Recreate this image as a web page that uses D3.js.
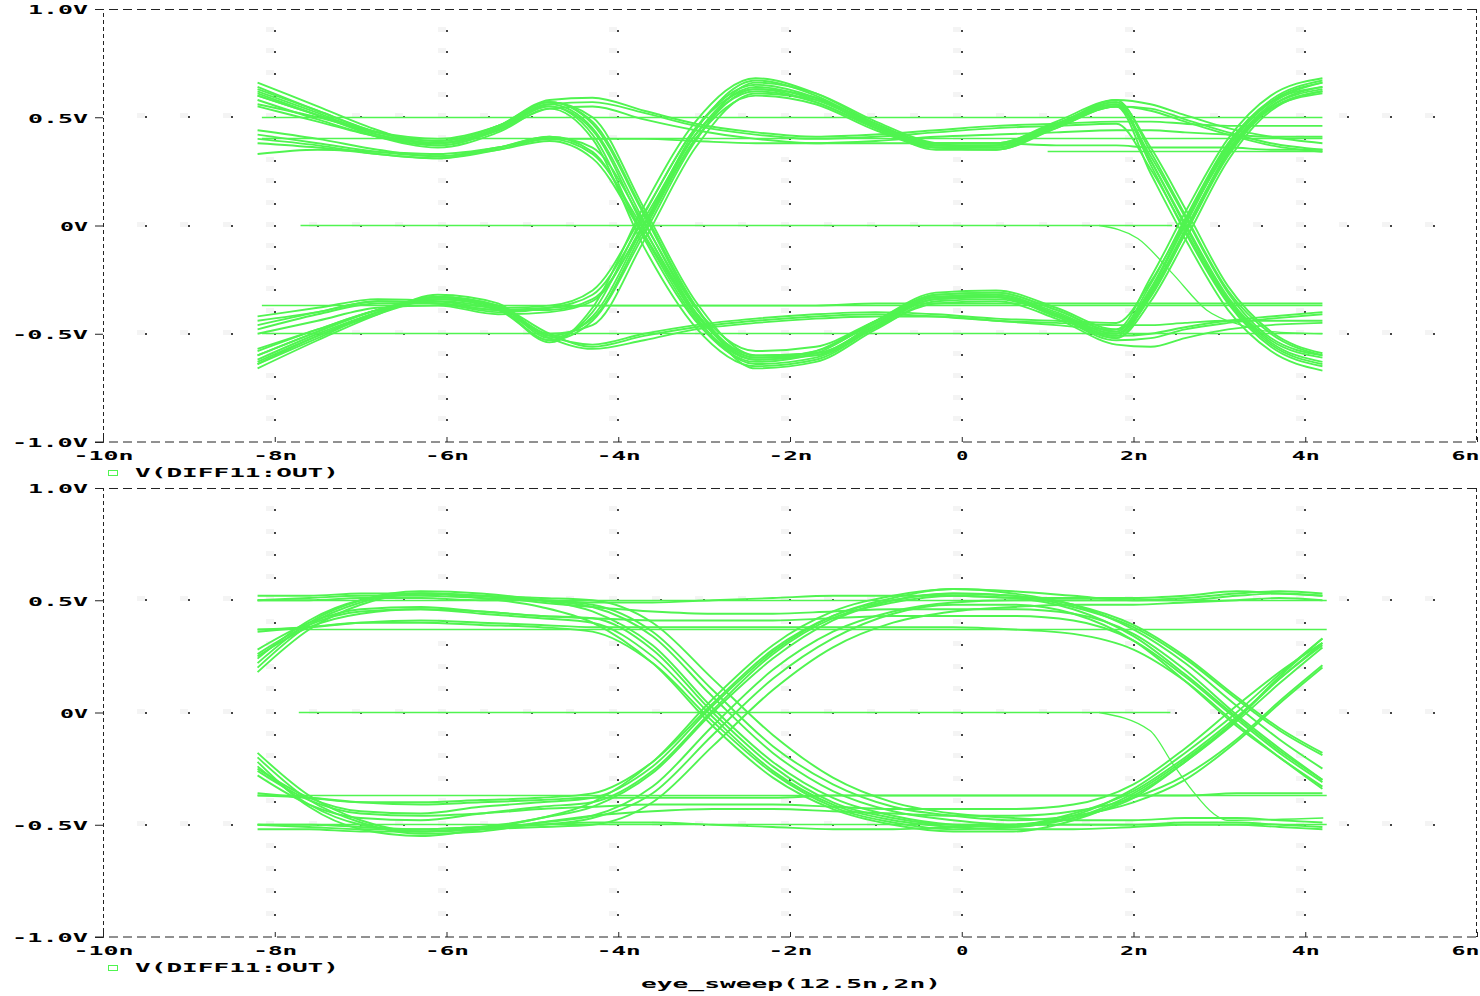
<!DOCTYPE html>
<html>
<head>
<meta charset="utf-8">
<script src="https://cdn.jsdelivr.net/npm/d3@7"></script>
<style>
  html, body { margin: 0; padding: 0; background: #fff; }
  svg { display: block; }
  .lbl { font-family: "DejaVu Sans Mono", monospace; font-weight: bold; font-size: 13px; fill: #000; }
</style>
</head>
<body>
<svg id="chart" width="1480" height="996"></svg>
<script>
// Axis data
const xTicks = [-10, -8, -6, -4, -2, 0, 2, 4, 6];
const xTickLabels = ["-10n", "-8n", "-6n", "-4n", "-2n", "0", "2n", "4n", "6n"];
const yTicks = [1, 0.5, 0, -0.5, -1];
const yTickLabels = ["1.0V", "0.5V", "0V", "-0.5V", "-1.0V"];
const legendText = "V(DIFF11:OUT)";
const xTitle = "eye_sweep(12.5n,2n)";

// Top plot: sample times (ns) shared by every trace, then voltages per trace
const topKnots = [-8.2, -7.5, -6.8, -6.1, -5.4, -4.8, -4.3, -3.7, -3.1, -2.4, -1.7, -1.0, -0.3, 0.4, 1.1, 1.8, 2.2, 2.6, 3.1, 3.6, 4.2];
const topTraces = [
  [0.62, 0.52, 0.42, 0.38, 0.45, 0.56, 0.45, 0.02, -0.40, -0.62, -0.60, -0.46, -0.33, -0.32, -0.40, -0.50, -0.30, 0.00, 0.36, 0.57, 0.66],
  [0.56, 0.50, 0.43, 0.40, 0.46, 0.57, 0.47, 0.05, -0.38, -0.61, -0.58, -0.45, -0.34, -0.33, -0.42, -0.53, -0.52, -0.48, -0.45, -0.43, -0.41],
  [0.66, 0.55, 0.44, 0.37, 0.44, 0.55, 0.44, -0.01, -0.42, -0.64, -0.61, -0.47, -0.32, -0.31, -0.39, -0.49, -0.27, 0.03, 0.38, 0.58, 0.67],
  [0.40, 0.37, 0.33, 0.31, 0.35, 0.40, 0.33, -0.02, -0.40, -0.60, -0.59, -0.46, -0.34, -0.33, -0.41, -0.51, -0.50, -0.47, -0.44, -0.42, -0.40],
  [0.33, 0.35, 0.34, 0.33, 0.36, 0.41, 0.34, -0.04, -0.41, -0.61, -0.60, -0.45, -0.33, -0.32, -0.41, -0.51, -0.31, -0.03, 0.34, 0.55, 0.64],
  [-0.62, -0.50, -0.40, -0.33, -0.37, -0.52, -0.42, 0.00, 0.42, 0.64, 0.58, 0.46, 0.37, 0.37, 0.47, 0.57, 0.30, 0.00, -0.34, -0.54, -0.63],
  [-0.66, -0.53, -0.41, -0.32, -0.36, -0.51, -0.43, -0.02, 0.40, 0.63, 0.59, 0.47, 0.38, 0.38, 0.48, 0.58, 0.56, 0.51, 0.45, 0.41, 0.38],
  [-0.46, -0.40, -0.35, -0.36, -0.40, -0.38, -0.32, 0.03, 0.42, 0.62, 0.57, 0.45, 0.36, 0.36, 0.46, 0.56, 0.28, -0.03, -0.36, -0.56, -0.65],
  [-0.50, -0.44, -0.38, -0.37, -0.41, -0.40, -0.35, 0.01, 0.44, 0.67, 0.60, 0.46, 0.35, 0.35, 0.45, 0.55, 0.54, 0.49, 0.43, 0.38, 0.35],
  [0.60, 0.51, 0.42, 0.38, 0.45, 0.56, 0.57, 0.52, 0.46, 0.42, 0.40, 0.41, 0.43, 0.45, 0.46, 0.47, 0.26, -0.02, -0.35, -0.55, -0.64],
  [0.64, 0.53, 0.43, 0.39, 0.46, 0.58, 0.59, 0.53, 0.47, 0.43, 0.41, 0.42, 0.44, 0.46, 0.47, 0.48, 0.48, 0.47, 0.46, 0.46, 0.46],
  [-0.60, -0.49, -0.39, -0.34, -0.38, -0.51, -0.55, -0.50, -0.46, -0.43, -0.41, -0.40, -0.41, -0.43, -0.44, -0.45, -0.26, 0.02, 0.37, 0.57, 0.64],
  [-0.64, -0.52, -0.40, -0.33, -0.37, -0.50, -0.56, -0.51, -0.47, -0.44, -0.42, -0.41, -0.42, -0.44, -0.45, -0.46, -0.46, -0.45, -0.44, -0.44, -0.44],
  [-0.58, -0.48, -0.39, -0.34, -0.39, -0.53, -0.44, -0.04, 0.39, 0.66, 0.61, 0.48, 0.38, 0.36, 0.45, 0.55, 0.32, 0.04, -0.31, -0.52, -0.60],
  [0.60, 0.51, 0.43, 0.39, 0.46, 0.57, 0.48, 0.06, -0.37, -0.66, -0.63, -0.48, -0.35, -0.34, -0.41, -0.50, -0.33, -0.04, 0.33, 0.55, 0.63],
  [0.42, 0.38, 0.34, 0.32, 0.36, 0.40, 0.40, 0.40, 0.39, 0.38, 0.38, 0.38, 0.38, 0.38, 0.37, 0.37, 0.36, 0.36, 0.36, 0.35, 0.35],
  [-0.44, -0.40, -0.35, -0.36, -0.39, -0.38, -0.37, -0.37, -0.37, -0.37, -0.37, -0.36, -0.36, -0.36, -0.36, -0.36, -0.36, -0.36, -0.36, -0.36, -0.36],
  [0.58, 0.49, 0.41, 0.37, 0.44, 0.55, 0.42, -0.06, -0.44, -0.63, -0.59, -0.44, -0.31, -0.30, -0.38, -0.48, -0.24, 0.06, 0.40, 0.60, 0.68],
  [-0.64, -0.51, -0.40, -0.33, -0.38, -0.53, -0.40, 0.05, 0.45, 0.65, 0.59, 0.45, 0.36, 0.35, 0.46, 0.58, 0.34, 0.05, -0.30, -0.50, -0.60],
  [-0.42, -0.38, -0.34, -0.35, -0.38, -0.37, -0.30, 0.06, 0.45, 0.63, 0.57, 0.45, 0.37, 0.37, 0.46, 0.55, 0.53, 0.48, 0.42, 0.37, 0.34],
  [0.44, 0.40, 0.35, 0.32, 0.35, 0.39, 0.31, -0.05, -0.43, -0.62, -0.58, -0.44, -0.32, -0.31, -0.39, -0.49, -0.29, 0.01, 0.35, 0.56, 0.66],
  [0.61, 0.51, 0.41, 0.36, 0.43, 0.54, 0.40, -0.10, -0.47, -0.65, -0.62, -0.47, -0.34, -0.33, -0.41, -0.52, -0.35, -0.07, 0.30, 0.53, 0.62],
  [-0.60, -0.49, -0.39, -0.33, -0.38, -0.54, -0.38, 0.09, 0.48, 0.68, 0.61, 0.47, 0.37, 0.36, 0.46, 0.57, 0.36, 0.08, -0.28, -0.49, -0.59],
  [-0.63, -0.51, -0.41, -0.34, -0.37, -0.50, -0.46, -0.07, 0.36, 0.61, 0.58, 0.46, 0.38, 0.38, 0.47, 0.55, 0.24, -0.06, -0.39, -0.58, -0.67],
  [0.63, 0.53, 0.43, 0.38, 0.45, 0.57, 0.50, 0.08, -0.35, -0.60, -0.59, -0.47, -0.36, -0.35, -0.43, -0.55, -0.56, -0.52, -0.48, -0.46, -0.45],
  [-0.48, -0.41, -0.36, -0.36, -0.39, -0.39, -0.34, 0.00, 0.40, 0.60, 0.56, 0.44, 0.36, 0.37, 0.47, 0.56, 0.30, 0.01, -0.33, -0.53, -0.61],
  [0.38, 0.36, 0.33, 0.31, 0.36, 0.41, 0.36, 0.01, -0.38, -0.58, -0.56, -0.44, -0.33, -0.33, -0.42, -0.52, -0.32, -0.02, 0.33, 0.54, 0.61],
  [0.55, 0.48, 0.41, 0.38, 0.44, 0.54, 0.55, 0.49, 0.44, 0.40, 0.38, 0.39, 0.41, 0.42, 0.43, 0.44, 0.44, 0.43, 0.42, 0.41, 0.41],
  [-0.57, -0.48, -0.39, -0.35, -0.39, -0.52, -0.57, -0.53, -0.48, -0.45, -0.43, -0.42, -0.42, -0.44, -0.46, -0.48, -0.32, -0.04, 0.32, 0.54, 0.62]
];
// flat segments: [level V, start ns, end ns]
const topFlats = [[0.5, -8.15, 4.2], [0.4, -8.15, 4.2], [0.34, 1.0, 4.2], [-0.5, -8.15, 4.2], [-0.37, -8.15, 4.2]];
const topZeroLine = [[-7.7, 0], [2.45, 0]];
const topStartup = [[1.6, 0], [2.05, -0.06], [2.45, -0.22], [2.85, -0.39], [3.25, -0.46], [3.6, -0.49], [4.2, -0.5]];

// Bottom plot
const botKnots = [-8.2, -7.6, -7.0, -6.3, -5.6, -4.9, -4.3, -3.6, -2.9, -2.2, -1.5, -0.8, -0.1, 0.6, 1.3, 2.0, 2.6, 3.2, 3.7, 4.2];
const botTraces = [
  [0.22, 0.40, 0.50, 0.54, 0.53, 0.50, 0.45, 0.30, 0.02, -0.22, -0.38, -0.46, -0.50, -0.51, -0.46, -0.34, -0.18, 0.00, 0.17, 0.33],
  [0.25, 0.38, 0.44, 0.46, 0.44, 0.42, 0.40, 0.25, -0.02, -0.26, -0.41, -0.48, -0.51, -0.52, -0.52, -0.51, -0.50, -0.50, -0.51, -0.52],
  [0.50, 0.51, 0.52, 0.52, 0.51, 0.50, 0.48, 0.36, 0.10, -0.15, -0.32, -0.42, -0.46, -0.48, -0.46, -0.40, -0.30, -0.13, 0.04, 0.20],
  [-0.22, -0.42, -0.52, -0.55, -0.52, -0.47, -0.42, -0.27, 0.00, 0.24, 0.41, 0.50, 0.53, 0.52, 0.47, 0.38, 0.24, 0.06, -0.08, -0.19],
  [-0.25, -0.38, -0.44, -0.45, -0.42, -0.40, -0.38, -0.24, 0.03, 0.27, 0.43, 0.51, 0.55, 0.54, 0.52, 0.50, 0.50, 0.52, 0.53, 0.52],
  [-0.50, -0.50, -0.51, -0.52, -0.51, -0.50, -0.47, -0.36, -0.10, 0.15, 0.33, 0.44, 0.48, 0.48, 0.44, 0.32, 0.14, -0.06, -0.20, -0.33],
  [0.50, 0.50, 0.51, 0.51, 0.50, 0.50, 0.49, 0.49, 0.50, 0.51, 0.52, 0.52, 0.52, 0.51, 0.51, 0.51, 0.52, 0.54, 0.53, 0.52],
  [0.37, 0.38, 0.40, 0.41, 0.40, 0.39, 0.38, 0.38, 0.38, 0.38, 0.38, 0.38, 0.38, 0.37, 0.35, 0.28, 0.14, -0.05, -0.20, -0.34],
  [-0.50, -0.51, -0.52, -0.52, -0.51, -0.50, -0.49, -0.49, -0.50, -0.51, -0.52, -0.52, -0.51, -0.50, -0.47, -0.38, -0.22, -0.03, 0.16, 0.33],
  [-0.37, -0.38, -0.40, -0.41, -0.40, -0.39, -0.38, -0.38, -0.38, -0.38, -0.37, -0.37, -0.37, -0.37, -0.37, -0.37, -0.37, -0.36, -0.36, -0.36],
  [0.20, 0.39, 0.49, 0.53, 0.52, 0.49, 0.47, 0.45, 0.44, 0.44, 0.45, 0.46, 0.46, 0.46, 0.44, 0.35, 0.19, -0.01, -0.16, -0.30],
  [-0.20, -0.39, -0.49, -0.54, -0.53, -0.49, -0.46, -0.44, -0.43, -0.43, -0.44, -0.45, -0.46, -0.46, -0.44, -0.38, -0.28, -0.12, 0.05, 0.21],
  [0.28, 0.40, 0.46, 0.47, 0.45, 0.43, 0.42, 0.28, 0.00, -0.24, -0.40, -0.47, -0.50, -0.50, -0.45, -0.35, -0.20, -0.02, 0.15, 0.31],
  [-0.28, -0.41, -0.47, -0.48, -0.45, -0.42, -0.40, -0.26, 0.01, 0.26, 0.42, 0.49, 0.52, 0.51, 0.46, 0.34, 0.17, -0.02, -0.17, -0.30],
  [0.18, 0.37, 0.48, 0.53, 0.52, 0.50, 0.47, 0.34, 0.07, -0.18, -0.35, -0.44, -0.48, -0.50, -0.50, -0.50, -0.49, -0.49, -0.50, -0.51],
  [-0.18, -0.37, -0.48, -0.53, -0.52, -0.49, -0.46, -0.33, -0.06, 0.19, 0.36, 0.45, 0.49, 0.50, 0.50, 0.50, 0.51, 0.53, 0.54, 0.53],
  [0.36, 0.38, 0.40, 0.40, 0.39, 0.38, 0.36, 0.22, -0.04, -0.27, -0.42, -0.49, -0.52, -0.51, -0.47, -0.36, -0.21, -0.03, 0.15, 0.30],
  [-0.36, -0.38, -0.40, -0.40, -0.39, -0.38, -0.36, -0.22, 0.04, 0.28, 0.43, 0.50, 0.53, 0.52, 0.48, 0.39, 0.25, 0.07, -0.07, -0.18],
  [0.24, 0.41, 0.50, 0.53, 0.51, 0.47, 0.40, 0.22, -0.06, -0.29, -0.43, -0.50, -0.53, -0.53, -0.48, -0.37, -0.22, -0.04, 0.13, 0.29],
  [-0.24, -0.41, -0.50, -0.53, -0.51, -0.47, -0.40, -0.22, 0.06, 0.30, 0.45, 0.52, 0.55, 0.53, 0.48, 0.37, 0.22, 0.03, -0.12, -0.25],
  [0.52, 0.52, 0.53, 0.53, 0.52, 0.51, 0.50, 0.40, 0.15, -0.10, -0.29, -0.40, -0.45, -0.47, -0.48, -0.48, -0.47, -0.47, -0.48, -0.49],
  [-0.52, -0.52, -0.53, -0.53, -0.52, -0.51, -0.50, -0.40, -0.15, 0.10, 0.29, 0.40, 0.45, 0.47, 0.48, 0.48, 0.49, 0.50, 0.51, 0.50],
  [0.26, 0.39, 0.45, 0.46, 0.45, 0.43, 0.42, 0.41, 0.41, 0.41, 0.42, 0.43, 0.43, 0.43, 0.41, 0.32, 0.16, -0.03, -0.18, -0.31],
  [-0.26, -0.39, -0.45, -0.46, -0.45, -0.43, -0.42, -0.41, -0.41, -0.41, -0.42, -0.43, -0.43, -0.43, -0.41, -0.32, -0.16, 0.03, 0.18, 0.31]
];
const botFlats = [[0.5, -8.2, 4.25], [0.37, -8.2, 4.25], [-0.37, -8.2, 4.25], [-0.5, -8.2, 4.25]];
const botZeroLine = [[-7.72, 0], [2.43, 0]];
const botStartup = [[1.6, 0], [2.19, -0.08], [2.46, -0.23], [2.69, -0.35], [2.93, -0.45], [3.09, -0.48], [4.21, -0.47]];

const svg = d3.select("#chart");
const green = "#50f450";
const left = 103, right = 1477;

const x = d3.scaleLinear().domain([-10, 6]).range([left, right]);

// stretch the mono font so it looks like the wide plotter font
function wide(sel) {
  sel.attr("class", "lbl")
    .attr("lengthAdjust", "spacingAndGlyphs")
    .attr("textLength", function() { return this.textContent.length * 16 - 4; });
}

function panel(top, bottom, knots, traces, flats, zeroLine, startup) {
  const y = d3.scaleLinear().domain([-1, 1]).range([bottom, top]);
  const g = svg.append("g");

  // grid dots: verticals every 2n, dots every 0.1V; horizontals every 0.5V, dots every 0.5n
  const gridG = g.append("g");
  const vDots = [];
  d3.range(-8, 5, 2).forEach(t => d3.range(-9, 10).forEach(k => vDots.push([t, k / 10])));
  const hDots = [];
  [0.5, 0, -0.5].forEach(v => d3.range(-19, 12).forEach(k => hDots.push([k / 2, v])));
  const dots = vDots.concat(hDots);
  gridG.selectAll("rect.ghost").data(dots).join("rect")
    .attr("class", "ghost")
    .attr("x", d => Math.round(x(d[0])) - 9).attr("y", d => Math.round(y(d[1])) - 4)
    .attr("width", 8).attr("height", 5).attr("fill", "#f4f4f4");
  gridG.selectAll("rect.dot").data(dots).join("rect")
    .attr("class", "dot")
    .attr("x", d => Math.round(x(d[0])) - 1).attr("y", d => Math.round(y(d[1])) - 1)
    .attr("width", 2).attr("height", 2).attr("fill", "#444");

  // frame
  g.append("line").attr("x1", left - 8).attr("x2", right).attr("y1", top + 0.5).attr("y2", top + 0.5)
    .attr("stroke", "#222").attr("stroke-dasharray", "9,5");
  g.append("line").attr("x1", right - 0.5).attr("x2", right - 0.5).attr("y1", top).attr("y2", bottom)
    .attr("stroke", "#222").attr("stroke-dasharray", "4,3");

  // traces
  const line = d3.line().x(d => x(d[0])).y(d => y(d[1])).curve(d3.curveMonotoneX);
  const plain = d3.line().x(d => x(d[0])).y(d => Math.floor(y(d[1])) + 0.5);
  const tg = g.append("g").attr("fill", "none").attr("stroke", green).attr("stroke-width", 1.9);
  tg.selectAll("path.flat").data(flats).join("path")
    .attr("class", "flat")
    .attr("d", d => plain([[d[1], d[0]], [d[2], d[0]]]))
    .attr("stroke-width", 1.6);
  tg.append("path").attr("d", plain(zeroLine)).attr("stroke-width", 1.6);
  tg.append("path").attr("d", line(startup)).attr("stroke-width", 1.3);
  tg.selectAll("path.tr").data(traces).join("path")
    .attr("class", "tr")
    .attr("d", vals => line(knots.map((t, i) => [t, vals[i]])));

  // y axis
  const yAxis = d3.axisLeft(y).tickValues(yTicks).tickSize(8).tickPadding(7)
    .tickFormat((d, i) => yTickLabels[i]);
  const ga = g.append("g").attr("transform", `translate(${left},0)`).call(yAxis);
  ga.select(".domain").attr("stroke", "#222").attr("stroke-dasharray", "4,3");
  ga.selectAll(".tick line").attr("stroke", "#222");
  ga.selectAll(".tick text").attr("dy", "0.38em").call(wide).attr("font-size", null).attr("font-family", null);

  // x axis
  const xAxis = d3.axisBottom(x).tickValues(xTicks).tickSize(-5).tickPadding(15)
    .tickFormat((d, i) => xTickLabels[i]);
  const gx = g.append("g").attr("transform", `translate(0,${bottom})`).call(xAxis);
  gx.select(".domain").attr("stroke", "#222").attr("stroke-dasharray", "9,5")
    .attr("d", `M${left - 8},0H${right}`);
  gx.selectAll(".tick line").attr("stroke", "#222");
  gx.selectAll(".tick text").attr("dy", "0.2em").call(wide).attr("font-size", null).attr("font-family", null);
  gx.selectAll(".tick text").filter((d, i) => i === xTicks.length - 1)
    .attr("text-anchor", "end").attr("x", 2);

  // legend
  g.append("rect").attr("x", 108.5).attr("y", bottom + 28.5).attr("width", 9).attr("height", 5)
    .attr("fill", "none").attr("stroke", green);
  g.append("text").attr("x", 135).attr("y", bottom + 35).text(legendText).call(wide);
}

panel(9, 442, topKnots, topTraces, topFlats, topZeroLine, topStartup);
panel(488, 937, botKnots, botTraces, botFlats, botZeroLine, botStartup);

svg.append("text").attr("x", 791).attr("y", 988).attr("text-anchor", "middle")
  .text(xTitle).call(wide);
</script>
</body>
</html>
